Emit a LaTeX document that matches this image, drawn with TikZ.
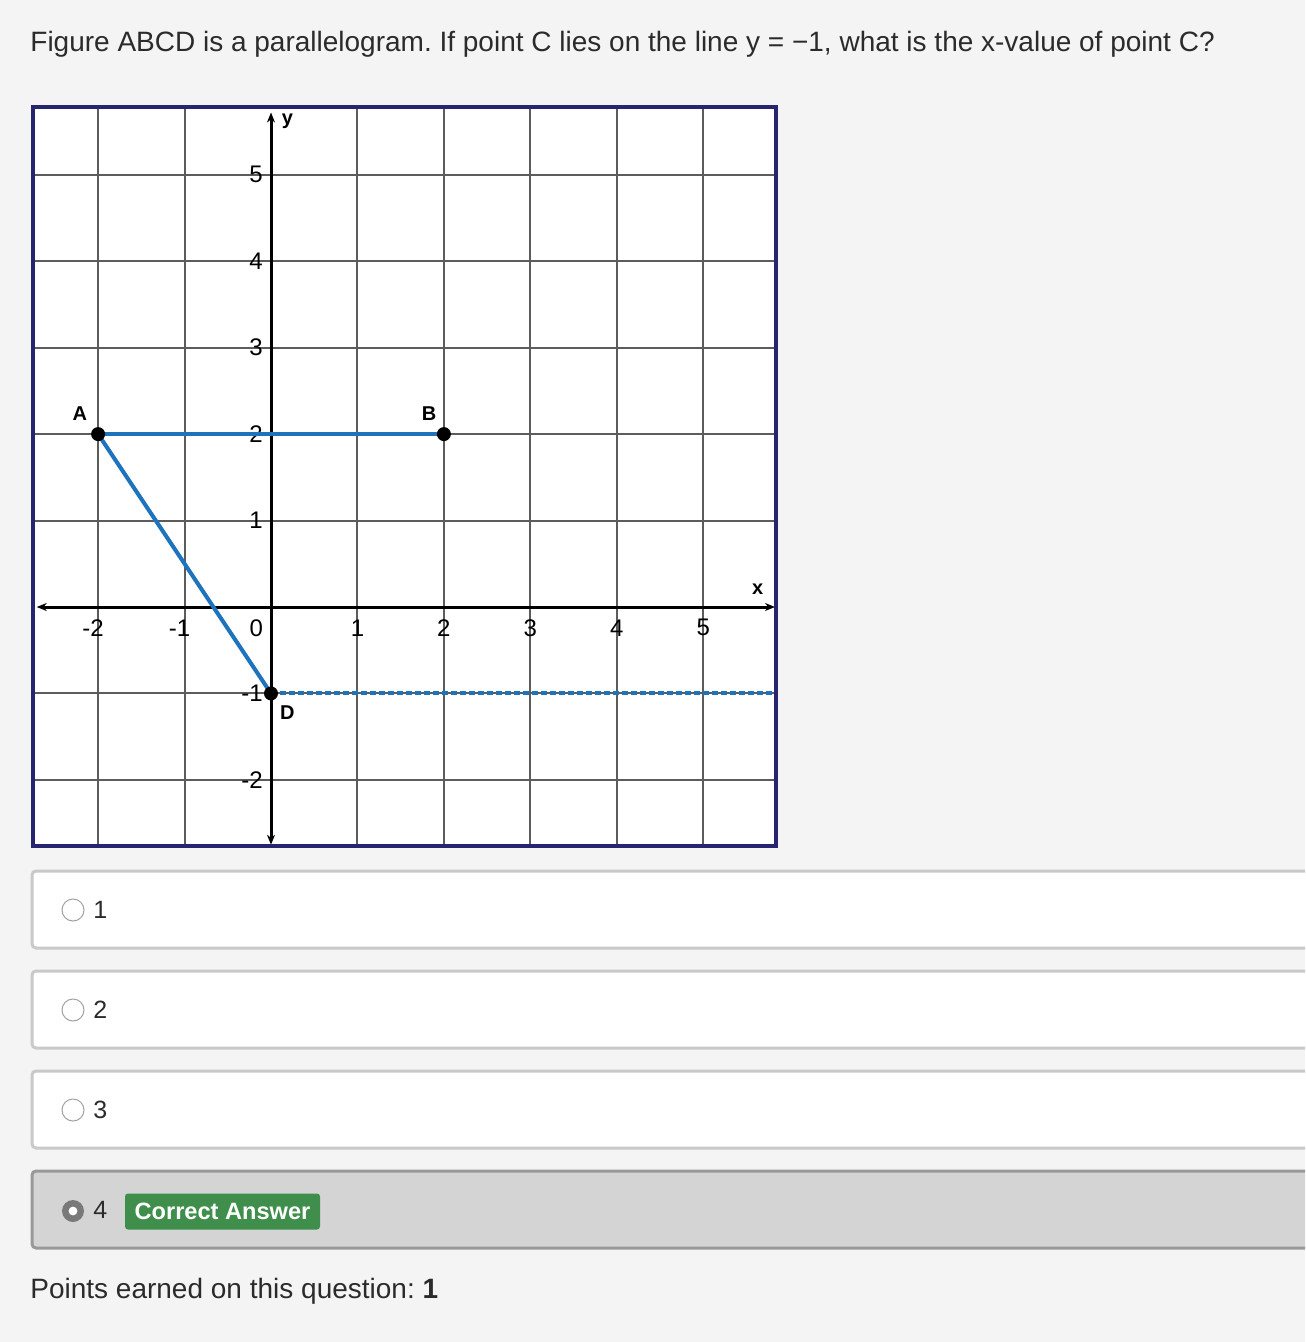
\documentclass[tikz,border=0pt]{standalone}
\usepackage{fontspec}
\setmainfont{Liberation Sans}
\usetikzlibrary{positioning,arrows.meta}
\definecolor{pagebg}{HTML}{F4F4F4}
\definecolor{framenavy}{HTML}{27256F}
\definecolor{segblue}{HTML}{1F72BC}
\definecolor{gridgray}{HTML}{5C5C5C}
\definecolor{boxline}{HTML}{C9C9C9}
\definecolor{selfill}{HTML}{D4D4D4}
\definecolor{selline}{HTML}{999999}
\definecolor{okgreen}{HTML}{3F8E4B}
\definecolor{txt}{HTML}{2B2B2B}
\frenchspacing
\tikzset{
  gridline/.style={gridgray, line width=1pt},
  axisline/.style={black, line width=1.5pt},
  ticklabel/.style={inner sep=0pt, font=\fontsize{12}{14}\selectfont},
  ptlabel/.style={inner sep=0pt, font=\bfseries\fontsize{10}{11}\selectfont},
  ptdot/.style={fill=black},
  seg/.style={segblue, line width=2pt},
  optbox/.style={draw=boxline, fill=white, line width=1.5pt, rounded corners=2pt},
  optlabel/.style={anchor=west, inner sep=0pt, text=txt, font=\fontsize{12.5}{14}\selectfont}
}

\begin{document}
\begin{tikzpicture}[x=0.5pt,y=-0.5pt]
\useasboundingbox[fill=pagebg] (0,0) rectangle (1305,1342);
\clip (0,0) rectangle (1305,1342);

\node[anchor=base west, inner sep=0pt, text=txt, font=\fontsize{14}{16}\selectfont] (question) at (30,52)
  {Figure ABCD is a parallelogram. If point C lies on the line y = −1, what is the x-value of point C?};

\fill[white] (33,107) rectangle (776,846);
\begin{scope}[shift={(271,607)}, x=43.225pt, y=43.225pt]
  \foreach \gx in {-2,-1,1,2,3,4,5}
    \draw[gridline] (\gx,-2.765) -- (\gx,5.784);
  \foreach \gy in {-2,-1,1,2,3,4,5}
    \draw[gridline] (-2.753,\gy) -- (5.842,\gy);
  \draw[axisline, {Stealth[length=5pt,width=4pt]}-{Stealth[length=5pt,width=4pt]}] (-2.71,0) -- (5.83,0);
  \draw[axisline, {Stealth[length=5pt,width=4pt]}-{Stealth[length=5pt,width=4pt]}] (0,-2.75) -- (0,5.72);
  \node[ptlabel] (xlbl) at (5.63,0.2) {x};
  \node[ptlabel] (ylbl) at (0.19,5.62) {y};
  \foreach \gx in {-2,-1}
    \node[ticklabel, xshift=-2.5pt] at (\gx,-0.24) {-\the\numexpr-\gx\relax};
  \foreach \gx in {1,...,5}
    \node[ticklabel] at (\gx,-0.24) {\gx};
  \node[ticklabel] (zero) at (-0.17,-0.24) {0};
  \foreach \gy in {-2,-1,1,2,3,4,5}
    \node[ticklabel, anchor=east] at (-0.09,\gy) {\gy};

  \coordinate (A) at (-2,2);
  \coordinate (B) at (2,2);
  \coordinate (D) at (0,-1);
  \coordinate (Cray) at (5.842,-1);
  \draw[segblue, line width=2pt, dash pattern=on 3pt off 1.5pt] (D) -- (Cray);
  \draw[seg] (A) -- (B);
  \draw[seg] (A) -- (D);
  \foreach \p in {A,B,D}
    \fill[ptdot] (\p) circle[radius=3.5pt];
  \node[ptlabel] (lblA) at (-2.21,2.24) {A};
  \node[ptlabel] (lblB) at (1.83,2.24) {B};
  \node[ptlabel] (lblD) at (0.19,-1.22) {D};
\end{scope}
\draw[framenavy, line width=2pt] (33,107) rectangle (776,846);

\foreach \i/\lbl in {0/1,1/2,2/3}{
  \draw[optbox] (32,871+100*\i) rectangle (1320,948+100*\i);
  \draw[draw=boxline!80!black, fill=white, line width=0.5pt] (73,910+100*\i) circle[radius=5.5pt];
  \node[optlabel] (opt\lbl) at (93,910+100*\i) {\lbl};
}
\draw[draw=selline, fill=selfill, line width=1.5pt, rounded corners=2pt] (32,1171) rectangle (1320,1248);
\fill[gray!95!black] (73,1211) circle[radius=5.5pt];
\fill[white] (73,1211) circle[radius=2.2pt];
\node[optlabel] (opt4) at (93,1210) {4};
\node[fill=okgreen, text=white, rounded corners=1.5pt, minimum width=97.5pt, minimum height=18pt, inner sep=0pt,
  font=\bfseries\fontsize{11.8}{13}\selectfont] (correct) at (222.5,1211.5) {Correct Answer};

\node[anchor=base west, inner sep=0pt, text=txt, font=\fontsize{14}{16}\selectfont] (points) at (30,1298)
  {Points earned on this question: \textbf{1}};
\end{tikzpicture}
\end{document}
